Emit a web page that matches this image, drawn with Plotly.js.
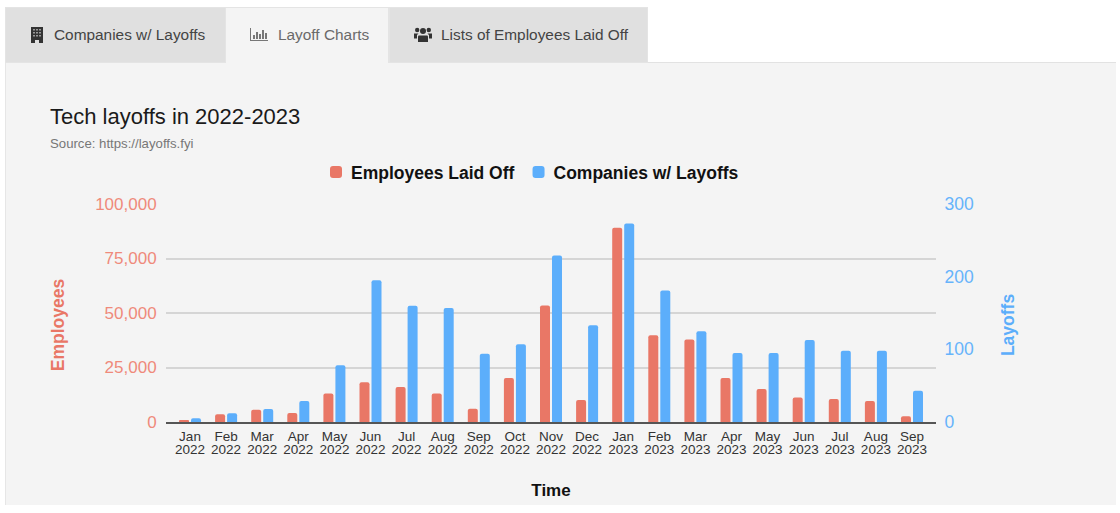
<!DOCTYPE html>
<html>
<head>
<meta charset="utf-8">
<script src="https://cdn.plot.ly/plotly-3.0.1.min.js"></script>
<style>
html,body{margin:0;padding:0;background:#fff;width:1120px;height:513px;overflow:hidden;font-family:"Liberation Sans",Arial,sans-serif}
#panel{position:absolute;left:5px;top:62px;width:1111px;height:443px;background:#f4f4f4;border-top:1px solid #e2e2e2;border-left:1px solid #e6e6e6;box-sizing:border-box}
.tab{position:absolute;top:7px;height:56px;box-sizing:border-box;background:#e0e0e0;border:1px solid #e4e4e4;font-size:15.4px;line-height:54px;color:#444}
.tab span{position:absolute;top:0;white-space:nowrap}
.tab svg{position:absolute}
#t2{background:#f4f4f4;color:#6a6a6a;border-bottom:none}
#chart{position:absolute;left:0;top:0;width:1120px;height:513px}
</style>
</head>
<body>
<div id="panel"></div>
<div class="tab" id="t1" style="left:5px;width:221px">
  <svg style="left:25px;top:19px" width="12" height="16" viewBox="0 0 12 16"><path fill="#333" d="M0 0H12V16H8V13H4V16H0Z"/><path fill="#999" d="M2 2h2v1.5H2zM5 2h2v1.5H5zM8 2h2v1.5H8zM2 5h2v1.5H2zM5 5h2v1.5H5zM8 5h2v1.5H8zM2 8h2v1.5H2zM5 8h2v1.5H5zM8 8h2v1.5H8z"/></svg>
  <span style="left:48px">Companies w/ Layoffs</span>
</div>
<div class="tab" id="t2" style="left:225px;width:164px">
  <svg style="left:24px;top:20px" width="18" height="13" viewBox="0 0 18 13"><path fill="#777" d="M0 0h1v12h17v1H0zM3 7h2v4H3zM6 4h2v7H6zM9 6h2v5H9zM12 2h2v9h-2zM15 5h2v6h-2z"/></svg>
  <span style="left:52px">Layoff Charts</span>
</div>
<div class="tab" id="t3" style="left:389px;width:259px">
  <svg style="left:24px;top:19px" width="18" height="15" viewBox="0 0 18 15"><g fill="#333"><circle cx="9" cy="4" r="3"/><circle cx="3.2" cy="3" r="2.2"/><circle cx="14.8" cy="3" r="2.2"/><path d="M5 8.5h8a1 1 0 0 1 1 1V15H4V9.5a1 1 0 0 1 1-1z"/><path d="M0 6.5h4.5L3 8v3.5H0zM18 6.5h-4.5L15 8v3.5h3z"/></g></svg>
  <span style="left:51px">Lists of Employees Laid Off</span>
</div>
<div id="chart"></div>
<script>
var months = ["Jan<br>2022","Feb<br>2022","Mar<br>2022","Apr<br>2022","May<br>2022","Jun<br>2022","Jul<br>2022","Aug<br>2022","Sep<br>2022","Oct<br>2022","Nov<br>2022","Dec<br>2022","Jan<br>2023","Feb<br>2023","Mar<br>2023","Apr<br>2023","May<br>2023","Jun<br>2023","Jul<br>2023","Aug<br>2023","Sep<br>2023"];
var employees = [800,3500,5600,4100,13100,18200,16000,13100,6100,20200,53400,10100,89100,39800,37800,20200,15100,11200,10500,9600,2600];
var companies = [5,12,18,29,78,195,160,157,94,107,229,133,273,181,125,95,95,113,98,98,43];
var leftTicks = [0,25000,50000,75000,100000];
var rightTicks = [0,100,200,300];
var red = "#e97766", blue = "#5caefb";
var font = '"Liberation Sans", Arial, sans-serif';
var positions = months.map(function(_, i){ return i; });

var traces = [
  {type:"bar", name:"Employees Laid Off", x:positions, y:employees, yaxis:"y", offsetgroup:"a",
   marker:{color:red, cornerradius:2}},
  {type:"bar", name:"Companies w/ Layoffs", x:positions, y:companies, yaxis:"y2", offsetgroup:"b",
   marker:{color:blue, cornerradius:2}}
];
var layout = {
  width:1120, height:513,
  paper_bgcolor:"rgba(0,0,0,0)", plot_bgcolor:"rgba(0,0,0,0)",
  margin:{l:166, r:184, t:204, b:91, pad:0},
  font:{family:font},
  barmode:"group", bargap:0.335, bargroupgap:0.167,
  showlegend:true,
  legend:{orientation:"h", x:(311-166)/770, xanchor:"left", y:(422-172)/218, yanchor:"middle",
          font:{size:17.5, color:"#111", weight:700}, traceorder:"normal", itemwidth:30},
  title:{text:"Tech layoffs in 2022-2023", xref:"container", yref:"container",
         x:50/1120, xanchor:"left", y:1-116/513, yanchor:"middle",
         font:{size:22, color:"#1a1a1a"}},
  xaxis:{range:[-0.665,20.665], tickmode:"array", tickvals:positions, ticktext:months,
         tickangle:0, tickfont:{size:13.5, color:"#333"}, ticks:"outside", ticklen:1, tickcolor:"rgba(0,0,0,0)",
         showgrid:false, zeroline:false, showline:true, linecolor:"#555", linewidth:1.5,
         title:{text:"Time", font:{size:17, color:"#111", weight:700}, standoff:24}},
  yaxis:{range:[0,100000], tickmode:"array", tickvals:leftTicks, tickformat:",",
         tickfont:{size:17, color:"#ef8a7b"}, ticks:"outside", ticklen:5, tickcolor:"rgba(0,0,0,0)",
         showgrid:true, gridcolor:"#d5d5d5", gridwidth:1.5, zeroline:false, showline:false,
         title:{text:"Employees", font:{size:17.5, color:red, weight:700}, standoff:26}},
  yaxis2:{range:[0,300], overlaying:"y", side:"right", tickmode:"array", tickvals:rightTicks,
         tickfont:{size:17.5, color:"#66b3fb"}, ticks:"outside", ticklen:4, tickcolor:"rgba(0,0,0,0)",
         showgrid:false, zeroline:false, showline:false,
         title:{text:"Layoffs", font:{size:17.5, color:blue, weight:700}, standoff:28}},
  annotations:[{text:"Source: https://layoffs.fyi", xref:"paper", yref:"paper", x:(48-166)/770, y:(422-143)/218,
                xanchor:"left", yanchor:"middle", showarrow:false, font:{size:13.2, color:"#777"}}]
};
function polish(){
  document.querySelectorAll("#chart .xtick text tspan.line").forEach(function(t){
    var dy = t.getAttribute("dy");
    if (dy && parseFloat(dy) !== 0) t.setAttribute("dy", "1em");
  });
  document.querySelectorAll("#chart .ytitle, #chart .y2title").forEach(function(t){
    var cur = t.getAttribute("transform") || "";
    t.setAttribute("transform", "translate(0,12) " + cur.replace(/^translate\(0,12\)\s*/, ""));
  });
  document.querySelectorAll("#chart .legendsymbols").forEach(function(t){
    t.setAttribute("transform", "translate(5,0)");
  });
  var items = document.querySelectorAll("#chart .legend .traces");
  if (items.length > 1 && !items[1].hasAttribute("data-shifted")) {
    var m = /translate\(([-\d.]+),\s*([-\d.]+)\)/.exec(items[1].getAttribute("transform") || "");
    if (m) {
      items[1].setAttribute("transform", "translate(" + (parseFloat(m[1]) - 6) + "," + m[2] + ")");
      items[1].setAttribute("data-shifted", "1");
    }
  }
}
var gd = document.getElementById("chart");
Plotly.newPlot(gd, traces, layout, {displayModeBar:false, responsive:false}).then(function(){
  polish();
  gd.on("plotly_afterplot", polish);
});
</script>
</body>
</html>
